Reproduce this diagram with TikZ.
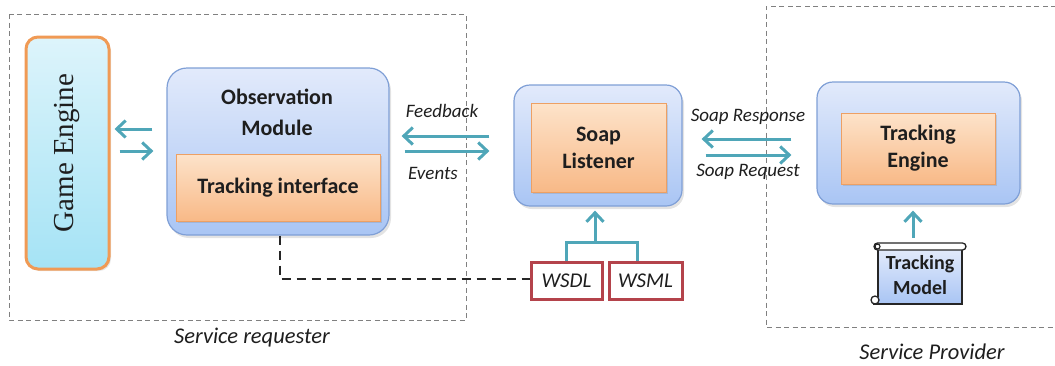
\documentclass[tikz,border=0pt]{standalone}
\usepackage{fontspec}
\setmainfont{Carlito}
\newfontfamily\seriffont{Liberation Serif}
\usetikzlibrary{arrows.meta,shadows,calc}

\definecolor{flowcol}{HTML}{4FA6B8}
\definecolor{outerline}{HTML}{7F9FD6}
\definecolor{outertop}{HTML}{E2EAFB}
\definecolor{outerbot}{HTML}{A9C5F4}
\definecolor{innerline}{HTML}{EDA064}
\definecolor{innertop}{HTML}{FDE3CA}
\definecolor{innerbot}{HTML}{F8B987}
\definecolor{gameline}{HTML}{F09A55}
\definecolor{gametop}{HTML}{DDF4FB}
\definecolor{gamebot}{HTML}{A5E3F5}
\definecolor{wsline}{HTML}{B4434B}
\definecolor{ink}{HTML}{1E1E1E}

\begin{document}
\begin{tikzpicture}[x=1pt,y=-1pt,
  every node/.style={text=ink},
  outerbox/.style={draw=outerline, line width=1.2pt, rounded corners=20pt,
    top color=outertop, bottom color=outerbot,
    drop shadow={opacity=0.22, shadow xshift=2pt, shadow yshift=-3pt}},
  innerbox/.style={draw=innerline, line width=0.8pt,
    top color=innertop, bottom color=innerbot, align=center,
    font=\bfseries\fontsize{22}{27}\selectfont,
    drop shadow={opacity=0.25, shadow xshift=2pt, shadow yshift=-2pt}},
  wsbox/.style={draw=wsline, line width=3pt, fill=white,
    font=\itshape\fontsize{21}{24}\selectfont, inner sep=0pt},
  groupbox/.style={draw=black!50, line width=0.7pt, dash pattern=on 5pt off 3.5pt},
  flowline/.style={draw=flowcol, line width=3pt},
  flow/.style={flowline, -{Straight Barb[length=9pt,width=17pt,line width=3pt]}},
  linkline/.style={draw=black!85, line width=1.3pt, dash pattern=on 9pt off 6pt},
  tag/.style={font=\itshape\fontsize{19}{22}\selectfont},
  grouptag/.style={font=\itshape\fontsize{22.5}{26}\selectfont},
]
\useasboundingbox (0,0) rectangle (1055,365);

% group frames
\draw[groupbox] (9,14) rectangle (466,320);
\draw[groupbox] (1056,6) -- (766,6) -- (766,327) -- (1056,327);
\node[grouptag] (reqtag) at (252,338) {Service requester};
\node[grouptag] (provtag) at (932,352) {Service Provider};

% game engine
\node[draw=gameline, line width=3pt, rounded corners=12pt,
  top color=gametop, bottom color=gamebot,
  minimum width=83pt, minimum height=232pt,
  drop shadow={opacity=0.2, shadow xshift=2pt, shadow yshift=-2pt}]
  (ge) at (67.5,153) {};
\node[rotate=90, font=\seriffont\fontsize{29}{32}\selectfont] (getext) at (ge.center) {Game Engine};

% observation module
\node[outerbox, minimum width=222pt, minimum height=167pt] (obs) at (278,151.5) {};
\node[align=center, font=\bfseries\fontsize{22}{31}\selectfont] (obstext) at (277,112.5) {Observation\\Module};
\node[innerbox, minimum width=204pt, minimum height=67pt] (ti) at (278,187.5) {Tracking interface};

% soap listener
\node[outerbox, rounded corners=16pt, minimum width=168pt, minimum height=121pt] (soapo) at (598,145.5) {};
\node[innerbox, minimum width=135pt, minimum height=89pt] (soapi) at (598.5,147.5) {Soap\\Listener};

% tracking engine
\node[outerbox, rounded corners=16pt, minimum width=203pt, minimum height=122pt] (teo) at (918.5,143) {};
\node[innerbox, minimum width=154pt, minimum height=71pt] (tei) at (918,148.5) {Tracking\\Engine};

% description files
\node[wsbox, minimum width=71pt, minimum height=37pt] (wsdl) at (566.5,280.5) {WSDL};
\node[wsbox, minimum width=73pt, minimum height=37pt] (wsml) at (645.5,280.5) {WSML};

% tracking model scroll
\fill[top color=outertop, bottom color=outerbot] (878,249) rectangle (962,304);
\draw[black!85, line width=1.3pt]
  (878,250) -- (878,297)
  (873,304) -- (962,304) -- (962,250);
\draw[black!85, line width=1.3pt, fill=white, rounded corners=3.5pt] (874,243) rectangle (966,250);
\draw[black!85, line width=1.2pt, fill=white] (877.5,246.5) circle (2.5pt);
\draw[black!85, line width=1.3pt, fill=white] (875,300) circle (4pt);
\node[align=center, font=\bfseries\fontsize{20}{25}\selectfont, minimum width=84pt, minimum height=55pt] (tm) at (920,275) {Tracking\\Model};

% flows between game engine and observation module
\draw[flow, shorten <=14pt, shorten >=4pt] ([yshift=22.5pt]obs.west) -- ([yshift=24pt]ge.east);
\draw[flow, shorten <=9pt, shorten >=13pt] ([yshift=2pt]ge.east) -- ([yshift=0.5pt]obs.west);

% feedback / events
\draw[flow, shorten <=24pt, shorten >=12pt] ([yshift=9.5pt]soapo.west) -- ([yshift=15.5pt]obs.east);
\draw[flow, shorten <=15pt, shorten >=24pt] ([yshift=0.5pt]obs.east) -- ([yshift=-5.5pt]soapo.west);
\node[tag] (fbtag) at (442,111) {Feedback};
\node[tag] (evtag) at (433,173) {Events};

% soap response / request
\draw[flow, shorten <=25pt, shorten >=19pt] ([yshift=4pt]teo.west) -- ([yshift=6.5pt]soapo.east);
\draw[flow, shorten <=23pt, shorten >=25pt] ([yshift=-9.5pt]soapo.east) -- ([yshift=-12pt]teo.west);
\node[tag] (resptag) at (748,117) {Soap Response};
\node[tag] (reqflowtag) at (748,172) {Soap Request};

% description files feed the listener
\coordinate (fork) at (595,242);
\draw[flowline] (wsdl.north) |- ([xshift=-8.5pt]wsml.north |- fork) -- ([xshift=-8.5pt]wsml.north);
\draw[flow, shorten >=4pt] (fork) -- (soapo.south -| fork);

% model feeds the engine
\draw[flow, shorten <=9.5pt, shorten >=6pt] ([xshift=-7pt]tm.north) -- ([xshift=-5.5pt]teo.south);

% observation module linked to the description files
\coordinate (bend) at (280,279);
\draw[linkline] (obs.south -| bend) -- (bend) -- (wsdl.west |- bend);
\end{tikzpicture}
\end{document}
